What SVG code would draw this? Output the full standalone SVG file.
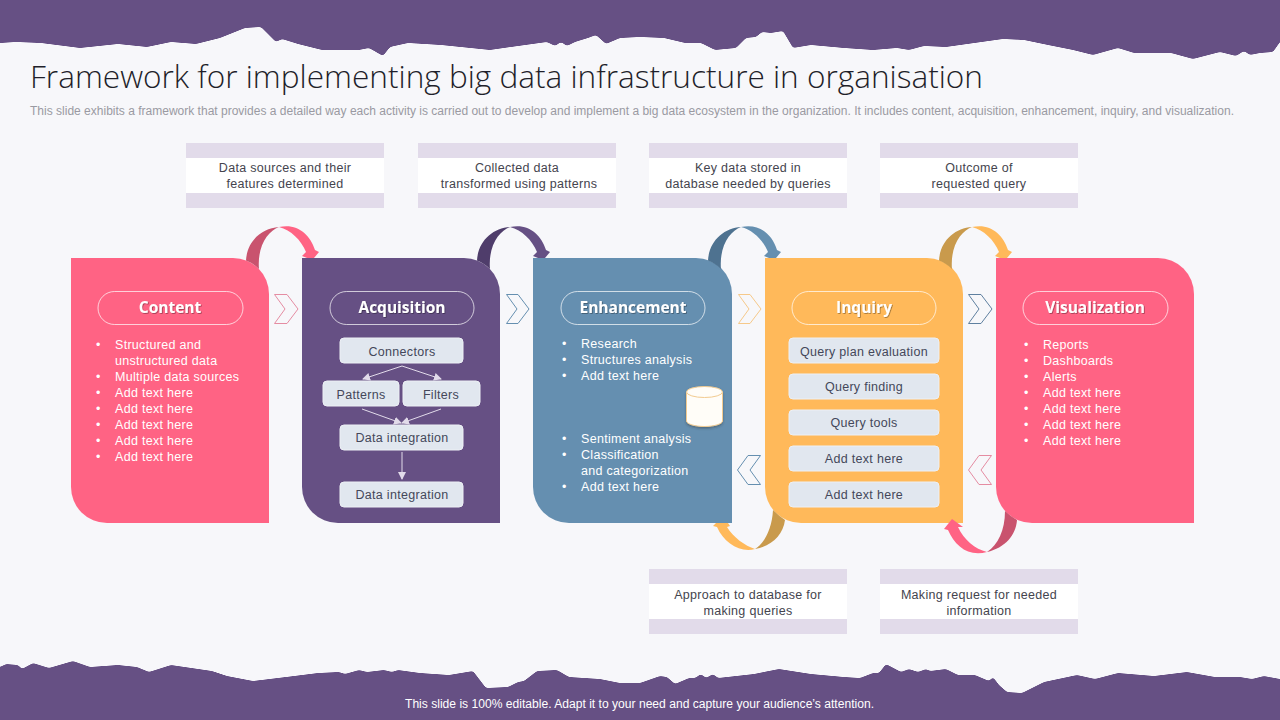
<svg xmlns="http://www.w3.org/2000/svg" width="1280" height="720" viewBox="0 0 1280 720">
<style>
text{font-family:"Liberation Sans",Arial,sans-serif;font-size:12.5px;letter-spacing:.3px}
.title{font-family:"Open Sans","Noto Sans",sans-serif;font-size:31px;font-weight:300;fill:#1F1F2A;letter-spacing:0}
.sub{font-size:12px;fill:#9A9AA2;letter-spacing:0}
.foot{font-size:12px;fill:#fff;letter-spacing:0}
.lab{fill:#44444E;text-anchor:middle}
.w{fill:#fff}
.box{fill:#E1E7EF;stroke:#EDF0F5;stroke-width:1}
.boxt{fill:#44475A;text-anchor:middle}
.pill{fill:none;stroke:#fff;stroke-opacity:.7;stroke-width:1}
.head{font-family:"Open Sans","Noto Sans",sans-serif;font-size:15.5px;font-weight:700;fill:#fff;text-anchor:middle;letter-spacing:0;filter:url(#sh)}
.band{fill:#E2DBEA}
.wh{fill:#fff}
.chev{fill:#F7F7FA;stroke-width:1}
.ln{stroke:#E2DBEA;stroke-width:1;fill:none;marker-end:url(#ah)}
</style>
<defs>
<filter id="sh" x="-10%" y="-20%" width="120%" height="150%"><feDropShadow dx=".8" dy=".8" stdDeviation=".5" flood-color="#000" flood-opacity=".4"/></filter>
<filter id="cs" x="-20%" y="-20%" width="140%" height="140%"><feDropShadow dx="0" dy="1.500" stdDeviation="1" flood-color="#333" flood-opacity=".4"/></filter>
<filter id="smooth" filterUnits="userSpaceOnUse" x="-20" y="-20" width="1320" height="760" color-interpolation-filters="sRGB"><feGaussianBlur stdDeviation="1.800" result="b"/><feComponentTransfer in="b" result="a"><feFuncA type="linear" slope="6" intercept="-2.500"/></feComponentTransfer><feFlood flood-color="#665084"/><feComposite in2="a" operator="in"/></filter>
<marker id="ah" viewBox="0 0 8 8" refX="7" refY="4" markerWidth="8" markerHeight="8" markerUnits="userSpaceOnUse" orient="auto"><path d="M0,0L8,4L0,8Z" fill="#E2DBEA"/></marker>
</defs>
<rect width="1280" height="720" fill="#F7F7FA"/>
<path id="top-edge" filter="url(#smooth)" fill="#665084" d="M-15,-15H1295V30L1280,42 1273,52 1260,53 1250,55 1244,51 1236,56 1220,52 1193,59 1171,53 1134,53 1118,48 1093,55 1073,50 1048,45 1024,40 1003,39 946,47 924,46 909,50 897,48 873,50 844,48 811,45 793,48 783,31 771,33 762,32 756,37 746,38 736,48 715,50 701,43 685,43 664,38 640,37 620,38 606,44 596,35 588,38 575,42 567,46 561,42 555,46 547,42 490,50 441,45 408,43 390,47 383,56 369,48 359,50 322,50 298,44 282,39 276,42 267,33 261,27 245,28 220,38 196,44 171,42 147,47 118,44 80,48 41,43 16,42 0,43 -15,43Z"/>
<path id="bottom-edge" filter="url(#smooth)" fill="#665084" d="M-15,735H1295V679L1280,679 1264,676 1252,679 1240,677 1215,677 1187,672 1154,676 1118,673 1095,679 1077,675 1044,682 1022,693 1007,692 999,685 993,677 989,681 975,675 958,675 946,669 930,671 926,669 918,672 909,669 901,672 886,664 879,673 873,673 860,678 844,677 811,674 779,669 754,674 718,678 713,674 706,678 701,674 695,678 689,678 675,684 667,677 660,676 640,683 620,683 600,679 569,677 557,670 537,671 524,681 518,682 508,687 486,688 473,671 449,675 420,673 398,670 392,672 384,670 367,672 359,670 345,674 339,672 318,673 286,677 253,681 227,676 212,671 171,665 149,672 137,667 118,665 90,667 73,661 49,668 33,663 22,669 18,665 6,664 0,667 -15,667Z"/>
<text class="title" x="30" y="88" textLength="953" lengthAdjust="spacingAndGlyphs">Framework for implementing big data infrastructure in organisation</text>
<text class="sub" x="30" y="115" textLength="1204" lengthAdjust="spacingAndGlyphs">This slide exhibits a framework that provides a detailed way each activity is carried out to develop and implement a big data ecosystem in the organization. It includes content, acquisition, enhancement, inquiry, and visualization.</text>
<text class="foot" x="405" y="708" textLength="469" lengthAdjust="spacingAndGlyphs">This slide is 100% editable. Adapt it to your need and capture your audience’s attention.</text>

<g id="label-1"><rect class="band" x="186" y="143" width="198" height="65"/><rect class="wh" x="186" y="158" width="198" height="35"/><text class="lab" x="285" y="172">Data sources and their</text><text class="lab" x="285" y="188">features determined</text></g>
<g id="label-2"><rect class="band" x="418" y="143" width="198" height="65"/><rect class="wh" x="418" y="158" width="198" height="35"/><text class="lab" x="517" y="172">Collected data</text><text class="lab" x="519" y="188">transformed using patterns</text></g>
<g id="label-3"><rect class="band" x="649" y="143" width="198" height="65"/><rect class="wh" x="649" y="158" width="198" height="35"/><text class="lab" x="748" y="172">Key data stored in</text><text class="lab" x="748" y="188">database needed by queries</text></g>
<g id="label-4"><rect class="band" x="880" y="143" width="198" height="65"/><rect class="wh" x="880" y="158" width="198" height="35"/><text class="lab" x="979" y="172">Outcome of</text><text class="lab" x="979" y="188">requested query</text></g>
<g id="label-5"><rect class="band" x="649" y="569" width="198" height="65"/><rect class="wh" x="649" y="584" width="198" height="35"/><text class="lab" x="748" y="599">Approach to database for</text><text class="lab" x="748" y="615">making queries</text></g>
<g id="label-6"><rect class="band" x="880" y="569" width="198" height="65"/><rect class="wh" x="880" y="584" width="198" height="35"/><text class="lab" x="979" y="599">Making request for needed</text><text class="lab" x="979" y="615">information</text></g>

<g id="content">
<path fill="#FF6384" d="M71,258H233A36,36 0 0 1 269,294V523H107A36,36 0 0 1 71,487Z"/>
<rect class="pill" x="98" y="291.500" width="145" height="33" rx="16.500"/>
<text class="head" x="170" y="313">Content</text>
<g class="w"><text class="w" x="96" y="349">•</text><text class="w" x="115" y="349">Structured and</text><text class="w" x="115" y="365">unstructured data</text><text class="w" x="96" y="381">•</text><text class="w" x="115" y="381">Multiple data sources</text><text class="w" x="96" y="397">•</text><text class="w" x="115" y="397">Add text here</text><text class="w" x="96" y="413">•</text><text class="w" x="115" y="413">Add text here</text><text class="w" x="96" y="429">•</text><text class="w" x="115" y="429">Add text here</text><text class="w" x="96" y="445">•</text><text class="w" x="115" y="445">Add text here</text><text class="w" x="96" y="461">•</text><text class="w" x="115" y="461">Add text here</text></g>
</g>
<g id="acquisition">
<path fill="#665084" d="M302,258H464A36,36 0 0 1 500,294V523H338A36,36 0 0 1 302,487Z"/>
<rect class="pill" x="330" y="291.500" width="144" height="33" rx="16.500"/>
<text class="head" x="402" y="313">Acquisition</text>
<rect class="box" x="340" y="338" width="123" height="25" rx="4"/><text class="boxt" x="402" y="356">Connectors</text>
<rect class="box" x="323" y="381" width="76" height="25" rx="4"/><text class="boxt" x="361" y="399">Patterns</text>
<rect class="box" x="403" y="381" width="77" height="25" rx="4"/><text class="boxt" x="441" y="399">Filters</text>
<rect class="box" x="340" y="425" width="123" height="25" rx="4"/><text class="boxt" x="402" y="442">Data integration</text>
<rect class="box" x="340" y="482" width="123" height="25" rx="4"/><text class="boxt" x="402" y="499">Data integration</text>
</g>
<g id="enhancement">
<path fill="#658FB0" d="M533,258H696A36,36 0 0 1 732,294V523H569A36,36 0 0 1 533,487Z"/>
<rect class="pill" x="561" y="291.500" width="144" height="33" rx="16.500"/>
<text class="head" x="633" y="313">Enhancement</text>
<text class="w" x="562" y="348">•</text><text class="w" x="581" y="348">Research</text><text class="w" x="562" y="364">•</text><text class="w" x="581" y="364">Structures analysis</text><text class="w" x="562" y="380">•</text><text class="w" x="581" y="380">Add text here</text>
<text class="w" x="562" y="443">•</text><text class="w" x="581" y="443">Sentiment analysis</text><text class="w" x="562" y="459">•</text><text class="w" x="581" y="459">Classification</text><text class="w" x="581" y="475">and categorization</text><text class="w" x="562" y="491">•</text><text class="w" x="581" y="491">Add text here</text>
<g filter="url(#cs)"><path fill="#FFFDF8" stroke="#F2CB90" d="M686.500,392V421C686.500,424 695,426.500 704.500,426.500S722.500,424 722.500,421V392"/><ellipse cx="704.500" cy="392" rx="18" ry="5.500" fill="#FFFDF8" stroke="#F2CB90"/></g>
</g>
<g id="inquiry">
<path fill="#FFB95A" d="M765,258H927A36,36 0 0 1 963,294V523H801A36,36 0 0 1 765,487Z"/>
<rect class="pill" x="792" y="291.500" width="144" height="33" rx="16.500"/>
<text class="head" x="864" y="313">Inquiry</text>
<rect class="box" x="789" y="338" width="150" height="25" rx="4"/><text class="boxt" x="864" y="356">Query plan evaluation</text>
<rect class="box" x="789" y="374" width="150" height="25" rx="4"/><text class="boxt" x="864" y="391">Query finding</text>
<rect class="box" x="789" y="410" width="150" height="25" rx="4"/><text class="boxt" x="864" y="427">Query tools</text>
<rect class="box" x="789" y="446" width="150" height="25" rx="4"/><text class="boxt" x="864" y="463">Add text here</text>
<rect class="box" x="789" y="482" width="150" height="25" rx="4"/><text class="boxt" x="864" y="499">Add text here</text>
</g>
<g id="visualization">
<path fill="#FF6384" d="M996,258H1158A36,36 0 0 1 1194,294V523H1032A36,36 0 0 1 996,487Z"/>
<rect class="pill" x="1023" y="291.500" width="145" height="33" rx="16.500"/>
<text class="head" x="1095" y="313">Visualization</text>
<text class="w" x="1024" y="349">•</text><text class="w" x="1043" y="349">Reports</text><text class="w" x="1024" y="365">•</text><text class="w" x="1043" y="365">Dashboards</text><text class="w" x="1024" y="381">•</text><text class="w" x="1043" y="381">Alerts</text><text class="w" x="1024" y="397">•</text><text class="w" x="1043" y="397">Add text here</text><text class="w" x="1024" y="413">•</text><text class="w" x="1043" y="413">Add text here</text><text class="w" x="1024" y="429">•</text><text class="w" x="1043" y="429">Add text here</text><text class="w" x="1024" y="445">•</text><text class="w" x="1043" y="445">Add text here</text>
</g>

<g id="connectors">
<g id="arc-1"><path fill="#C9536E" d="M246,260.500C247,241 262,228 279,227C268,231 257,246 259,269Q253,263 246,260.500Z"/><path fill="#FF6384" d="M279,227C297,223 310,234 315,250L319,252 314,258H307L302,256 306,252C301,240 291,230 279,227Z"/></g>
<g id="arc-2" transform="translate(231,0)"><path fill="#4F3D6B" d="M246,260.500C247,241 262,228 279,227C268,231 257,246 259,269Q253,263 246,260.500Z"/><path fill="#665084" d="M279,227C297,223 310,234 315,250L319,252 314,258H307L302,256 306,252C301,240 291,230 279,227Z"/></g>
<g id="arc-3" transform="translate(462,0)"><path fill="#4E7290" d="M246,260.500C247,241 262,228 279,227C268,231 257,246 259,269Q253,263 246,260.500Z"/><path fill="#658FB0" d="M279,227C297,223 310,234 315,250L319,252 314,258H307L302,256 306,252C301,240 291,230 279,227Z"/></g>
<g id="arc-4" transform="translate(693,0)"><path fill="#C99A4C" d="M246,260.500C247,241 262,228 279,227C268,231 257,246 259,269Q253,263 246,260.500Z"/><path fill="#FFB95A" d="M279,227C297,223 310,234 315,250L319,252 314,258H307L302,256 306,252C301,240 291,230 279,227Z"/></g>
<g id="arc-5"><path fill="#FFB95A" d="M755,549C745,546 733,537 727,527L730,526 728,523H716L713,526 717,527C724,543 740,553 755,549Z"/><path fill="#C99A4C" d="M755,549C772,546 783,535 785,520Q779,516 773,510C772,528 765,543 755,549Z"/></g>
<g id="arc-6"><path fill="#FF6384" d="M952,519L963,527 958,527C964,540 975,549 987,552C968,557 955,546 948,530L944,529Z"/><path fill="#C9536E" d="M987,552C1005,548 1016,535 1017,520Q1010,516 1005,511C1005,530 998,545 987,552Z"/></g>
<path class="chev" stroke="#E58CA2" d="M274.500,294.500H287L298,309 287,323.500H274.500L285,309Z"/>
<path class="chev" stroke="#658FB0" d="M506.500,294.500H518L529,309 518,323.500H506.500L517,309Z"/>
<path class="chev" stroke="#F6C98A" d="M738.500,294.500H750L761,309 750,323.500H738.500L749,309Z"/>
<path class="chev" stroke="#5F80A0" d="M968.500,294.500H981L992,309 981,323.500H968.500L979,309Z"/>
<path class="chev" stroke="#658FB0" d="M760.500,455.500H748L737.500,470 748,484.500H760.500L750,470Z"/>
<path class="chev" stroke="#E58CA2" d="M991.500,455.500H979L968.500,470 979,484.500H991.500L981,470Z"/>
<path class="ln" d="M402,366L363,379"/><path class="ln" d="M402,366L441,379"/>
<path class="ln" d="M362,409L401,423"/><path class="ln" d="M441,409L402,423"/>
<path class="ln" d="M402,452V479"/>
</g>
</svg>
